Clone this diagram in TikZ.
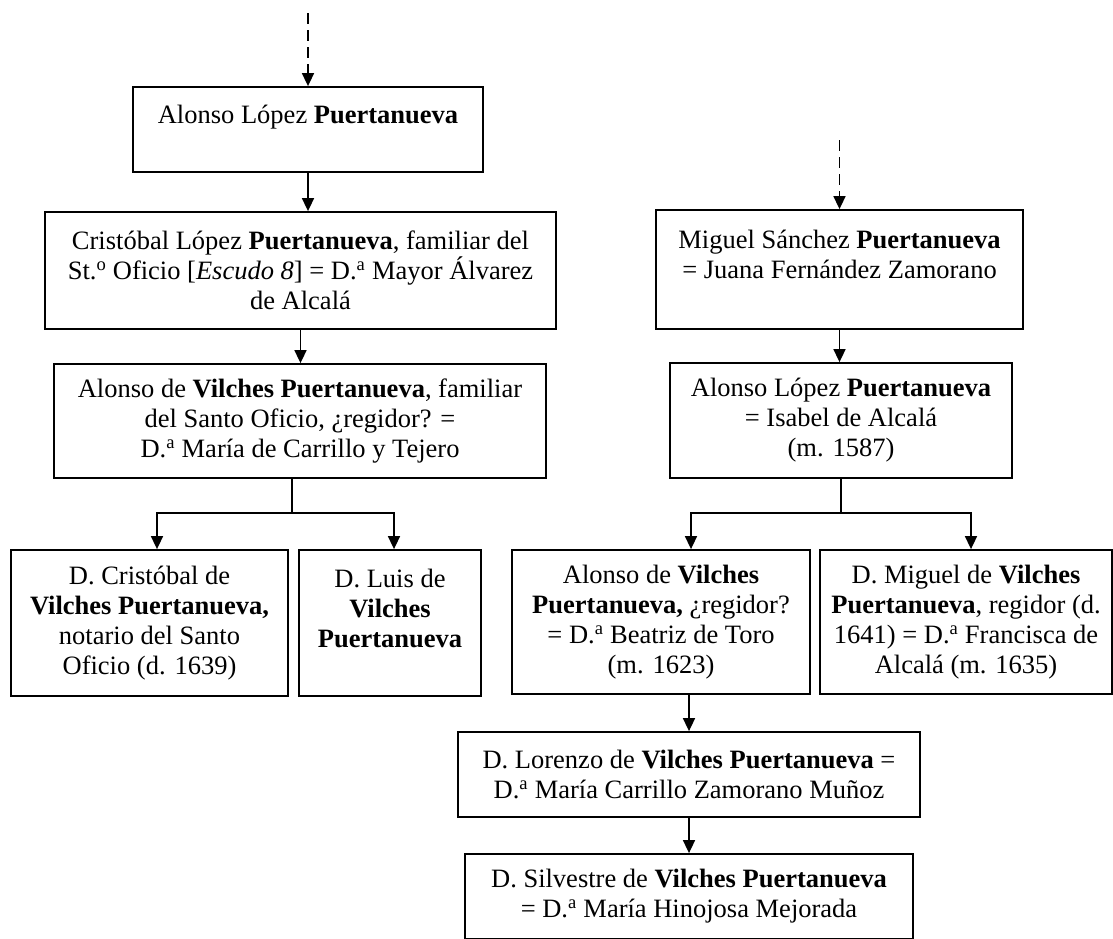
\documentclass[tikz,border=0pt]{standalone}
\usepackage{fontspec}
\setmainfont{Liberation Serif}
\usepackage{tikz}
\usetikzlibrary{positioning,arrows.meta}

\tikzset{
  pers/.style={draw, line width=1.8pt, fill=white, align=center, inner sep=0pt,
    font=\fontsize{26.5}{30}\selectfont},
  link/.style={line width=1.6pt, -{Triangle[length=13pt,width=12pt]}},
  upline/.style={link, dash pattern=on 11pt off 6pt},
}
\newcommand{\Da}{D.\textsuperscript{a}}

\begin{document}
\begin{tikzpicture}[x=1pt,y=-1pt]
\useasboundingbox[fill=white] (0,0) rectangle (1113,938);

% left line
\node[pers, minimum width=350pt, minimum height=85pt] (a1) at (308,129.5)
  {Alonso López \textbf{Puertanueva}\\ ~};
\node[pers, minimum width=511pt, minimum height=117pt] (a2) at (300.5,270.5)
  {Cristóbal López \textbf{Puertanueva}, familiar del\\
   St.\textsuperscript{o} Oficio [\textit{Escudo 8}] = \Da{} Mayor Álvarez\\
   de Alcalá};
\node[pers, minimum width=492pt, minimum height=114pt] (a3) at (300,421)
  {Alonso de \textbf{Vilches Puertanueva}, familiar\\
   del Santo Oficio, ¿regidor? =\\
   \Da{} María de Carrillo y Tejero};
\node[pers, minimum width=277pt, minimum height=146pt] (a4) at (149.5,623)
  {D. Cristóbal de\\ \textbf{Vilches Puertanueva,}\\ notario del Santo\\ Oficio (d. 1639)};
\node[pers, minimum width=182pt, minimum height=146pt] (a5) at (390,623)
  {D. Luis de\\ \textbf{Vilches}\\ \textbf{Puertanueva}\\ ~};

% right line
\node[pers, minimum width=367pt, minimum height=119pt] (b1) at (839.5,269.5)
  {Miguel Sánchez \textbf{Puertanueva}\\ = Juana Fernández Zamorano\\ ~};
\node[pers, minimum width=342pt, minimum height=115pt] (b2) at (841,420.5)
  {Alonso López \textbf{Puertanueva}\\ = Isabel de Alcalá\\ (m. 1587)};
\node[pers, minimum width=298pt, minimum height=144pt] (b3) at (661,622)
  {Alonso de \textbf{Vilches}\\ \textbf{Puertanueva,} ¿regidor?\\
   = \Da{} Beatriz de Toro\\ (m. 1623)};
\node[pers, minimum width=292pt, minimum height=144pt] (b4) at (966,622)
  {D. Miguel de \textbf{Vilches}\\ \textbf{Puertanueva}, regidor (d.\\
   1641) = \Da{} Francisca de\\ Alcalá (m. 1635)};
\node[pers, minimum width=462pt, minimum height=85pt] (b5) at (689,774.5)
  {D. Lorenzo de \textbf{Vilches Puertanueva} =\\
   \Da{} María Carrillo Zamorano Muñoz};
\node[pers, minimum width=448pt, minimum height=85pt] (b6) at (689,896.5)
  {D. Silvestre de \textbf{Vilches Puertanueva}\\
   = \Da{} María Hinojosa Mejorada};

\coordinate (ta) at (308,13);
\coordinate (tb) at (839.5,140);

% links
\draw[upline] (ta) -- (a1.north);
\draw[link] (a1.south) -- (a1.south |- a2.north);
\draw[link] (a2.south) -- (a2.south |- a3.north);
\draw[link] ([xshift=-8pt]a3.south) -- ++(0,34) -| ([xshift=7.5pt]a4.north);
\draw[link] ([xshift=-8pt]a3.south) -- ++(0,34) -| ([xshift=4pt]a5.north);

\draw[upline] (tb) -- (b1.north);
\draw[link] (b1.south) -- (b1.south |- b2.north);
\draw[link] (b2.south) -- ++(0,34) -| ([xshift=30pt]b3.north);
\draw[link] (b2.south) -- ++(0,34) -| ([xshift=5pt]b4.north);
\draw[link] (b5.north |- b3.south) -- (b5.north);
\draw[link] (b5.south) -- (b6.north);
\end{tikzpicture}
\end{document}
